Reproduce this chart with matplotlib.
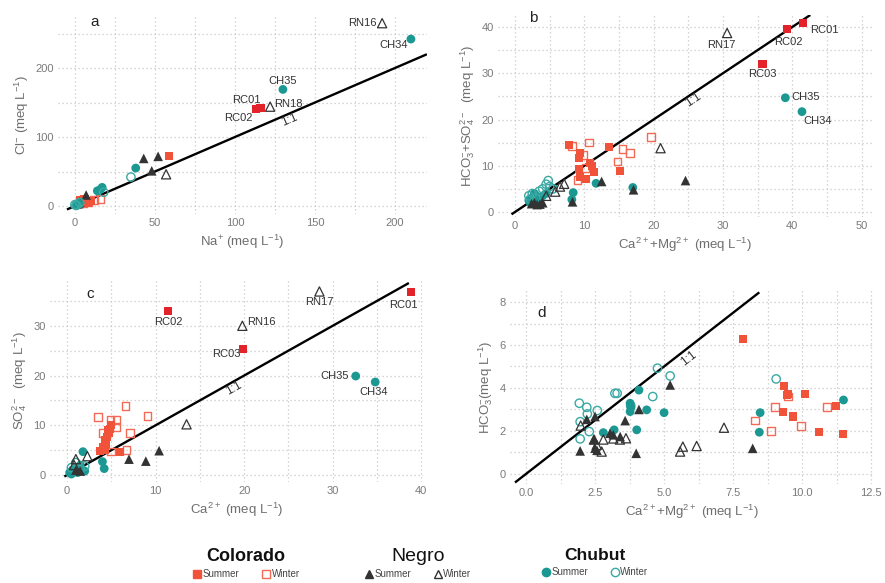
import matplotlib
matplotlib.use("Agg")
import matplotlib.pyplot as plt
from matplotlib.lines import Line2D
from matplotlib.ticker import MultipleLocator, FormatStrFormatter

plt.rcParams['font.family'] = ['Liberation Sans', 'DejaVu Sans']
plt.rcParams['mathtext.default'] = 'regular'

# ---- panel a: Na+ vs Cl- ----
a_col_s = ([2, 4, 5, 7, 8, 10, 3, 6, 59], [3, 5, 8, 6, 4, 7, 9, 10, 73])
a_col_w = ([12, 16, 8, 5], [9, 10, 5, 4])
a_neg_s = ([43, 52, 48, 7, 3, 1], [69, 72, 51, 16, 6, 3])
a_neg_w = ([57, 2], [46, 4])
a_chu_s = ([38, 17, 14, 16, 1, 2, 0.5, 3], [55, 27, 22, 24, 2, 4, 1, 3])
a_chu_w = ([35, 18, 1, 3, 0], [42, 20, 1, 5, 2])
a_lab_name = ['RC01', 'RC02', 'RN18', 'RN16', 'CH35', 'CH34']
a_lab_x = [116, 113, 122, 192, 130, 210]
a_lab_y = [142, 141, 144, 265, 169, 242]
a_lab_grp = ['col_s', 'col_s', 'neg_w', 'neg_w', 'chu_s', 'chu_s']

# ---- panel b: Ca2+ + Mg2+ vs HCO3- + SO4 2- ----
b_col_s = ([7.8, 9.4, 9.3, 13.5, 11.1, 11.4, 15.2, 10.3, 9.4, 9.3, 10.8],
           [14.5, 12.8, 11.6, 14.0, 10.0, 8.7, 8.9, 7.1, 7.6, 9.2, 10.5])
b_col_w = ([10.7, 9.8, 15.5, 16.6, 14.8, 19.6, 9.0, 8.2, 10.2],
           [15.0, 12.3, 13.6, 12.8, 10.9, 16.2, 6.9, 14.3, 9.5])
b_neg_s = ([12.5, 17.1, 8.3, 24.6, 3.6, 2.8, 3.2, 2.4, 4.0],
           [6.6, 4.8, 2.2, 6.8, 1.7, 2.0, 1.6, 1.8, 2.0])
b_neg_w = ([21.0, 7.1, 5.8, 6.5, 4.5], [13.8, 6.1, 4.4, 5.5, 3.5])
b_chu_s = ([11.7, 17.0, 8.4, 8.2, 2.0, 2.5, 3.0, 3.5, 4.0, 4.5, 2.2, 3.0, 2.8],
           [6.2, 5.3, 4.2, 2.7, 2.5, 3.0, 3.5, 2.8, 3.5, 4.0, 2.0, 2.2, 4.0])
b_chu_w = ([4.8, 2.0, 2.5, 3.5, 4.0, 5.0, 3.0, 2.2, 4.5, 5.5],
           [6.8, 3.5, 4.0, 4.5, 5.0, 5.5, 3.0, 2.8, 6.0, 5.0])
b_lab_name = ['RC01', 'RC02', 'RC03', 'RN17', 'CH35', 'CH34']
b_lab_x = [41.6, 39.2, 35.7, 30.6, 39.0, 41.4]
b_lab_y = [40.8, 39.6, 32.0, 38.7, 24.7, 21.7]
b_lab_grp = ['col_s', 'col_s', 'col_s', 'neg_w', 'chu_s', 'chu_s']

# ---- panel c: Ca2+ vs SO4 2- ----
c_col_s = ([5.0, 4.9, 4.5, 4.3, 4.1, 3.7, 4.3, 6.0, 4.7, 4.4, 4.6],
           [10.1, 9.3, 7.7, 7.0, 5.7, 4.9, 5.0, 4.7, 8.4, 6.3, 9.0])
c_col_w = ([6.6, 3.5, 9.1, 4.9, 5.6, 5.6, 4.0, 7.1, 6.7, 5.0],
           [13.9, 11.7, 11.9, 11.2, 11.1, 9.7, 8.5, 8.5, 5.0, 4.7])
c_neg_s = ([10.4, 8.9, 7.0, 1.0, 1.5], [4.9, 2.8, 3.2, 1.0, 0.8])
c_neg_w = ([13.5, 1.0, 2.3, 0.8], [10.2, 3.2, 3.8, 2.0])
c_chu_s = ([4.0, 4.2, 1.8, 0.3, 0.6, 1.0, 1.5, 0.5, 2.0, 1.2],
           [2.7, 1.3, 4.7, 0.5, 1.0, 1.5, 2.0, 0.2, 0.8, 0.5])
c_chu_w = ([0.5, 1.0, 1.5, 2.0], [1.5, 2.5, 1.2, 1.8])
c_lab_name = ['RC01', 'RC02', 'RC03', 'RN17', 'RN16', 'CH35', 'CH34']
c_lab_x = [38.8, 11.4, 19.9, 28.5, 19.8, 32.6, 34.8]
c_lab_y = [36.8, 33.0, 25.3, 36.9, 30.0, 19.9, 18.7]
c_lab_grp = ['col_s', 'col_s', 'col_s', 'neg_w', 'neg_w', 'chu_s', 'chu_s']

# ---- panel d: Ca2+ + Mg2+ vs HCO3- ----
d_col_s = ([7.85, 9.35, 9.44, 9.5, 10.1, 9.3, 9.66, 11.23, 10.6, 11.47],
           [6.26, 4.11, 3.67, 3.7, 3.72, 2.87, 2.67, 3.18, 1.94, 1.86])
d_col_w = ([8.3, 9.02, 8.88, 9.96, 10.9, 9.5], [2.48, 3.1, 2.0, 2.23, 3.1, 3.6])
d_neg_s = ([1.96, 2.2, 2.5, 2.5, 2.57, 3.04, 3.16, 3.41, 3.59, 4.09, 3.99, 5.22, 8.21, 2.47],
           [1.07, 2.54, 2.67, 1.2, 1.1, 1.89, 1.82, 1.74, 2.48, 3.0, 0.96, 4.14, 1.19, 1.6])
d_neg_w = ([1.98, 2.46, 2.56, 2.74, 2.8, 3.16, 3.62, 5.68, 5.58, 6.18, 7.17, 3.4],
           [2.25, 1.6, 1.35, 1.04, 1.6, 1.65, 1.66, 1.27, 1.04, 1.3, 2.15, 1.6])
d_chu_s = ([8.48, 8.45, 11.5, 4.09, 3.77, 3.8, 3.77, 4.37, 5.0, 4.01, 3.19, 2.8],
           [2.85, 1.94, 3.44, 3.9, 3.29, 3.1, 2.9, 2.98, 2.85, 2.05, 2.05, 1.92])
d_chu_w = ([9.06, 1.93, 2.2, 2.22, 1.96, 2.29, 1.96, 2.58, 3.22, 3.3, 4.59, 4.76, 5.22, 3.79],
           [4.42, 3.29, 3.1, 2.79, 2.43, 1.97, 1.63, 2.95, 3.75, 3.75, 3.6, 4.92, 4.56, 3.18])

# colours / marker styles
RED_S = '#f0533a'
RED_LAB = '#e2242a'
RED_W = '#f26a55'
GREY = '#333333'
TEAL = '#1c9893'
TEAL_W = '#3aa9a4'

STYLE = {
    'col_s': dict(marker='s', s=34, facecolor=RED_S, edgecolor='none'),
    'col_w': dict(marker='s', s=30, facecolor='none', edgecolor=RED_W, linewidths=1.0),
    'neg_s': dict(marker='^', s=48, facecolor=GREY, edgecolor='none'),
    'neg_w': dict(marker='^', s=44, facecolor='none', edgecolor=GREY, linewidths=0.9),
    'chu_s': dict(marker='o', s=40, facecolor=TEAL, edgecolor='none'),
    'chu_w': dict(marker='o', s=36, facecolor='none', edgecolor=TEAL_W, linewidths=1.0),
}

fig = plt.figure(figsize=(8.85, 5.83), dpi=100)


def panel(rect, xlim, ylim, xmaj, ymaj, series, labs, offsets, line_end, one_pos,
          letter, letter_pos, xlabel, ylabel, xfmt=None):
    ax = fig.add_axes(rect)
    ax.set_xlim(*xlim)
    ax.set_ylim(*ylim)
    ax.xaxis.set_major_locator(MultipleLocator(xmaj))
    ax.xaxis.set_minor_locator(MultipleLocator(xmaj / 2))
    ax.yaxis.set_major_locator(MultipleLocator(ymaj))
    ax.yaxis.set_minor_locator(MultipleLocator(ymaj / 2))
    if xfmt:
        ax.xaxis.set_major_formatter(FormatStrFormatter(xfmt))
    for s in ax.spines.values():
        s.set_visible(False)
    ax.tick_params(which='both', length=0, labelsize=8, labelcolor='#7a7a7a', pad=3)
    ax.grid(which='both', color='#c9c9c9', linestyle=(0, (1, 2.2)), linewidth=0.9)
    ax.set_axisbelow(True)
    ax.plot(line_end, line_end, color='black', lw=1.7, zorder=2,
            solid_capstyle='butt')
    for key, (xs, ys) in series.items():
        ax.scatter(xs, ys, zorder=3, **STYLE[key])
    names, lx, ly, grp = labs
    for n, x, y, g in zip(names, lx, ly, grp):
        st = dict(STYLE[g])
        if g == 'col_s':
            st['facecolor'] = RED_LAB
        ax.scatter([x], [y], zorder=4, **st)
        ax.annotate(n, (x, y), xytext=offsets[n], textcoords='offset pixels',
                    ha='center', va='center', fontsize=8, color='#333333')
    ax.text(one_pos[0], one_pos[1], '1:1', rotation=45, rotation_mode='anchor',
            transform_rotates_text=True, ha='center', va='center',
            fontsize=8.5, color='#333333')
    ax.text(letter_pos[0], letter_pos[1], letter, transform=ax.transAxes,
            fontsize=11, color='#222222', ha='center', va='center')
    ax.set_xlabel(xlabel, fontsize=9.5, color='#6e6e6e', labelpad=3)
    ax.set_ylabel(ylabel, fontsize=9.5, color='#6e6e6e', labelpad=3)
    return ax


panel([0.0655, 0.6329, 0.4169, 0.3413], (-10.6, 220), (-11.6, 276.8), 50, 100,
      {'col_w': a_col_w, 'col_s': a_col_s, 'neg_s': a_neg_s, 'neg_w': a_neg_w,
       'chu_s': a_chu_s, 'chu_w': a_chu_w},
      (a_lab_name, a_lab_x, a_lab_y, a_lab_grp),
      {'RC01': (-14, 8), 'RC02': (-17, -9), 'RN18': (18, 3), 'RN16': (-20, 0),
       'CH35': (0, 8), 'CH34': (-17, -6)},
      [-5, 220], (134, 125), 'a', (0.10, 0.965),
      r'Na$^{+}$ (meq L$^{-1}$)', r'Cl$^{-}$ (meq L$^{-1}$)')

panel([0.5627, 0.6278, 0.4226, 0.3465], (-2.45, 51.5), (-1.08, 42.6), 10, 10,
      {'col_w': b_col_w, 'col_s': b_col_s, 'chu_s': b_chu_s, 'chu_w': b_chu_w,
       'neg_s': b_neg_s, 'neg_w': b_neg_w},
      (b_lab_name, b_lab_x, b_lab_y, b_lab_grp),
      {'RC01': (21, -7), 'RC02': (2, -13), 'RC03': (0, -10), 'RN17': (-6, -12),
       'CH35': (20, 1), 'CH34': (16, -9)},
      [-0.5, 42.6], (25.7, 24.2), 'b', (0.093, 0.985),
      r'Ca$^{2+}$+Mg$^{2+}$ (meq L$^{-1}$)',
      r'HCO$_{3}^{-}$+SO$_{4}^{2-}$  (meq L$^{-1}$)')

panel([0.0565, 0.1732, 0.4215, 0.3499], (-1.92, 40.2), (-1.4, 39.6), 10, 10,
      {'col_w': c_col_w, 'col_s': c_col_s, 'chu_s': c_chu_s, 'chu_w': c_chu_w,
       'neg_s': c_neg_s, 'neg_w': c_neg_w},
      (c_lab_name, c_lab_x, c_lab_y, c_lab_grp),
      {'RC01': (-7, -13), 'RN17': (0, -11), 'RC02': (0, -11), 'RN16': (19, 4),
       'RC03': (-17, -5), 'CH35': (-21, 0), 'CH34': (-2, -10)},
      [-0.3, 38.6], (18.8, 17.4), 'c', (0.107, 0.92),
      r'Ca$^{2+}$ (meq L$^{-1}$)', r'SO$_{4}^{2-}$  (meq L$^{-1}$)')

panel([0.5763, 0.1698, 0.4102, 0.3328], (-0.58, 12.57), (-0.47, 8.56), 2.5, 2,
      {'chu_w': d_chu_w, 'chu_s': d_chu_s, 'neg_w': d_neg_w, 'neg_s': d_neg_s,
       'col_w': d_col_w, 'col_s': d_col_s},
      ([], [], [], []), {},
      [-0.4, 8.45], (5.88, 5.38), 'd', (0.087, 0.88),
      r'Ca$^{2+}$+Mg$^{2+}$ (meq L$^{-1}$)', r'HCO$_{3}^{-}$(meq L$^{-1}$)',
      xfmt='%.1f')

# ---- legends ----
def handles(key):
    st = STYLE[key]
    fc = st['facecolor']
    ec = st['edgecolor'] if st['edgecolor'] != 'none' else fc
    return Line2D([], [], linestyle='none', marker=st['marker'], markersize=6,
                  markerfacecolor=fc, markeredgecolor=ec, markeredgewidth=1.0)


legends = [('Colorado', 'col', 0.278, 'bold', 13),
           ('Negro', 'neg', 0.472, 'normal', 14),
           ('Chubut', 'chu', 0.672, 'bold', 12.5)]
for title, k, xc, weight, tsize in legends:
    leg = fig.legend([handles(k + '_s'), handles(k + '_w')], ['Summer', 'Winter'],
                     loc='upper center', bbox_to_anchor=(xc, 1 - 541 / 583),
                     ncol=2, frameon=False, fontsize=7, title=title,
                     title_fontproperties={'weight': weight, 'size': tsize},
                     handletextpad=0.1, columnspacing=2.2, handlelength=1.0,
                     borderpad=0.2, labelspacing=0.45)
    leg.get_title().set_color('#111111')
    for t in leg.get_texts():
        t.set_color('#444444')

fig.savefig('out.png', dpi=100)
